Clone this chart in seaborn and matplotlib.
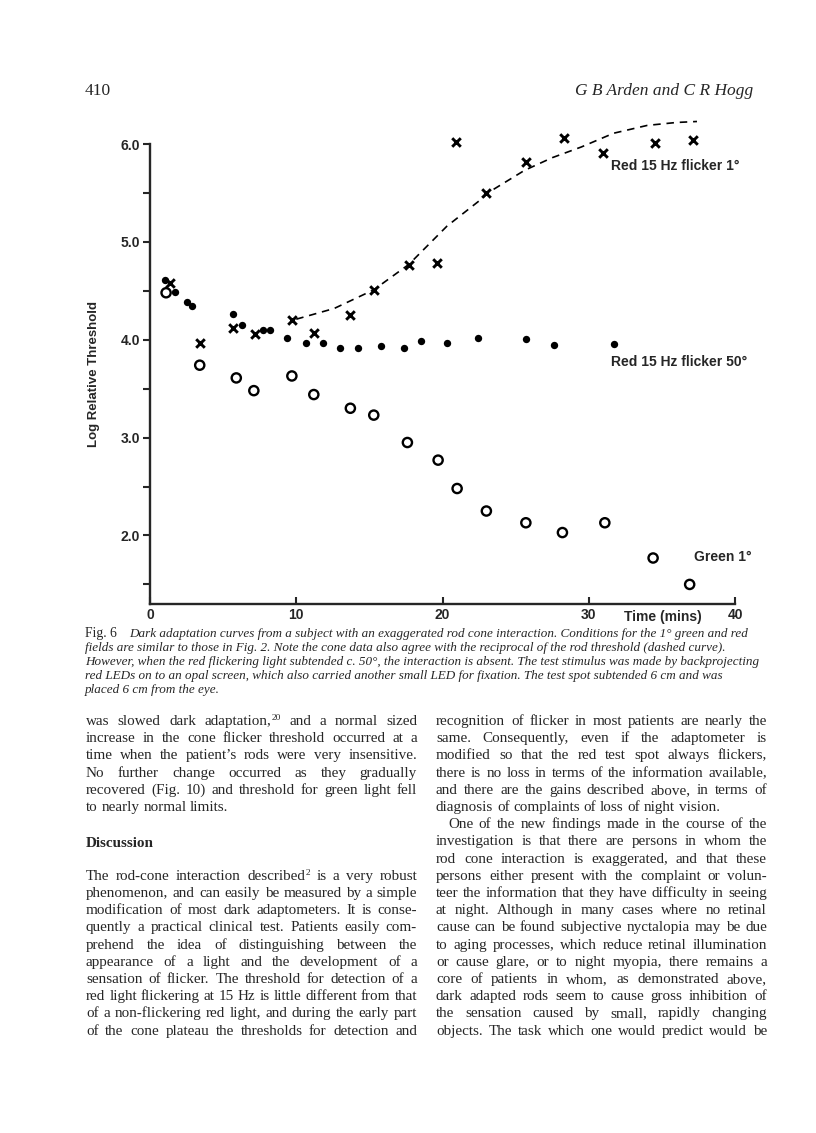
import matplotlib
matplotlib.use("Agg")
import matplotlib.pyplot as plt
import seaborn as sns
import pandas as pd

# %%
# values: time (mins) vs log relative threshold
red1_t = [1.4, 3.4, 5.7, 7.2, 9.7, 11.2, 13.7, 15.3, 17.7, 19.6, 20.9, 23.0, 25.7, 28.3, 31.0, 34.5, 37.1]
red1_v = [4.58, 3.97, 4.12, 4.06, 4.20, 4.07, 4.25, 4.51, 4.76, 4.78, 6.02, 5.50, 5.82, 6.06, 5.91, 6.01, 6.04]

red50_t = [1.0, 1.7, 2.5, 2.9, 5.7, 6.3, 7.7, 8.2, 9.4, 10.7, 11.8, 13.0, 14.2, 15.8, 17.4, 18.5,
           20.3, 22.4, 25.7, 27.6, 31.7]
red50_v = [4.61, 4.49, 4.39, 4.34, 4.26, 4.15, 4.10, 4.10, 4.02, 3.97, 3.97, 3.92, 3.92, 3.94, 3.92, 3.99,
           3.97, 4.02, 4.01, 3.95, 3.96]

green_t = [1.1, 3.4, 5.9, 7.1, 9.7, 11.2, 13.7, 15.3, 17.6, 19.7, 21.0, 23.0, 25.7, 28.2, 31.1, 34.4, 36.9]
green_v = [4.48, 3.74, 3.61, 3.48, 3.63, 3.44, 3.30, 3.23, 2.95, 2.77, 2.48, 2.25, 2.13, 2.03, 2.13, 1.77, 1.50]

# dashed curve (reciprocal of rod threshold)
curve_t = [10.0, 12.6, 15.3, 17.7, 20.3, 22.6, 23.2, 25.6, 27.5, 29.5, 31.7, 34.0, 36.0, 37.4]
curve_v = [4.21, 4.32, 4.51, 4.77, 5.16, 5.43, 5.51, 5.73, 5.86, 5.97, 6.11, 6.19, 6.22, 6.23]

y_ticks = [2.0, 3.0, 4.0, 5.0, 6.0]
y_minor = [1.5, 2.5, 3.5, 4.5, 5.5]
x_ticks = [0, 10, 20, 30, 40]

# %%
# page text ("^" marks a superscript reference number)
header_left = "410"
header_right = "G B Arden and C R Hogg"
caption_lead = "Fig. 6"
caption_lines = [
    "Dark adaptation curves from a subject with an exaggerated rod cone interaction. Conditions for the 1° green and red",
    "fields are similar to those in Fig. 2. Note the cone data also agree with the reciprocal of the rod threshold (dashed curve).",
    "However, when the red flickering light subtended c. 50°, the interaction is absent. The test stimulus was made by backprojecting",
    "red LEDs on to an opal screen, which also carried another small LED for fixation. The test spot subtended 6 cm and was",
    "placed 6 cm from the eye.",
]
col1_par1 = [
    "was slowed dark adaptation,^20 and a normal sized",
    "increase in the cone flicker threshold occurred at a",
    "time when the patient’s rods were very insensitive.",
    "No further change occurred as they gradually",
    "recovered (Fig. 10) and threshold for green light fell",
    "to nearly normal limits.",
]
heading = "Discussion"
col1_par2 = [
    "The rod-cone interaction described^2 is a very robust",
    "phenomenon, and can easily be measured by a simple",
    "modification of most dark adaptometers. It is conse-",
    "quently a practical clinical test. Patients easily com-",
    "prehend the idea of distinguishing between the",
    "appearance of a light and the development of a",
    "sensation of flicker. The threshold for detection of a",
    "red light flickering at 15 Hz is little different from that",
    "of a non-flickering red light, and during the early part",
    "of the cone plateau the thresholds for detection and",
]
col2_par1 = [
    "recognition of flicker in most patients are nearly the",
    "same. Consequently, even if the adaptometer is",
    "modified so that the red test spot always flickers,",
    "there is no loss in terms of the information available,",
    "and there are the gains described above, in terms of",
    "diagnosis of complaints of loss of night vision.",
]
col2_par2 = [
    "One of the new findings made in the course of the",
    "investigation is that there are persons in whom the",
    "rod cone interaction is exaggerated, and that these",
    "persons either present with the complaint or volun-",
    "teer the information that they have difficulty in seeing",
    "at night. Although in many cases where no retinal",
    "cause can be found subjective nyctalopia may be due",
    "to aging processes, which reduce retinal illumination",
    "or cause glare, or to night myopia, there remains a",
    "core of patients in whom, as demonstrated above,",
    "dark adapted rods seem to cause gross inhibition of",
    "the sensation caused by small, rapidly changing",
    "objects. The task which one would predict would be",
]

# %%
sns.set_style("ticks")
SANS = ["Liberation Sans", "DejaVu Sans"]
SERIF = ["Liberation Serif", "DejaVu Serif"]
plt.rcParams["font.family"] = SANS

W, H = 816, 1133
fig = plt.figure(figsize=(W / 100, H / 100), dpi=100)


def fxy(x, y):
    return x / W, 1 - y / H


ax = fig.add_axes([150 / W, 1 - 604 / H, 585 / W, 460 / H])

df_red1 = pd.DataFrame({"t": red1_t, "v": red1_v})
df_red50 = pd.DataFrame({"t": red50_t, "v": red50_v})
df_green = pd.DataFrame({"t": green_t, "v": green_v})
df_curve = pd.DataFrame({"t": curve_t, "v": curve_v})

sns.lineplot(data=df_curve, x="t", y="v", sort=False, estimator=None, color="k",
             lw=1.2, linestyle=(0, (4.5, 3.5)), ax=ax)
sns.scatterplot(data=df_red50, x="t", y="v", marker="o", s=28, color="k", linewidth=0, ax=ax)
sns.scatterplot(data=df_green, x="t", y="v", marker="o", s=44, facecolor="none",
                edgecolor="k", linewidth=1.7, ax=ax)
sns.scatterplot(data=df_red1, x="t", y="v", marker="x", s=38, color="k", linewidth=2.1, ax=ax)
for art in ax.collections + ax.lines:
    art.set_clip_on(False)

ax.set_xlim(0, 40)
ax.set_ylim(1.3, 6.0)
ax.set_xticks(x_ticks)
ax.set_xticklabels([str(v) for v in x_ticks])
ax.set_yticks(y_ticks)
ax.set_yticklabels([f"{v:.1f}" for v in y_ticks])
ax.set_yticks(y_minor, minor=True)
sns.despine(ax=ax)
for side in ["left", "bottom"]:
    ax.spines[side].set_linewidth(1.7)
ax.tick_params(axis="y", which="both", direction="out", length=5, width=1.5, labelsize=10, pad=2)
ax.tick_params(axis="x", direction="in", length=5, width=1.5, labelsize=10, pad=3)
for lab in ax.get_xticklabels() + ax.get_yticklabels():
    lab.set_fontweight("bold")
ax.set_xlabel("")
ax.set_ylabel("Log Relative Threshold", fontweight="bold", fontsize=9.5)
ax.yaxis.set_label_coords(-0.085, 0.50)

lab_kw = dict(fontsize=10, fontweight="bold", ha="left", va="center")
ax.text(31.5, 5.78, "Red 15 Hz flicker 1°", **lab_kw)
ax.text(31.5, 3.77, "Red 15 Hz flicker 50°", **lab_kw)
ax.text(37.2, 1.78, "Green 1°", **lab_kw)
ax.text(0.81, -0.028, "Time (mins)", transform=ax.transAxes, **lab_kw)

# %%
# header and caption
fig.text(*fxy(85, 95), header_left, family=SERIF, fontsize=12.5, ha="left", va="baseline")
fig.text(*fxy(753, 95), header_right, family=SERIF, style="italic", fontsize=12.5,
         ha="right", va="baseline")

r = fig.canvas.get_renderer()


def text_width(s, **kw):
    t = fig.text(0, 0, s, **kw)
    w = t.get_window_extent(r).width
    t.remove()
    return w


CAP_X = 85
cap_kw = dict(family=SERIF, style="italic", ha="left", va="baseline")
cap_size = 9.0 * (757 - CAP_X) / text_width(caption_lines[2], fontsize=9.0, **cap_kw)
fig.text(*fxy(CAP_X, 637), caption_lead, family=SERIF, fontsize=cap_size + 0.4, ha="left", va="baseline")
lead_w = text_width(caption_lead, family=SERIF, fontsize=cap_size + 0.4)
for i, line in enumerate(caption_lines):
    x0 = CAP_X + (lead_w + 12 if i == 0 else 0)
    fig.text(*fxy(x0, 637 + i * 14.0), line, fontsize=cap_size, **cap_kw)

# %%
# body text, justified word by word
body_kw = dict(family=SERIF, ha="left", va="baseline")
COLW = 331
BODY = 10.9


def make_word(word, size):
    # artists of one word (plus its raised reference number) and the total width
    base, _, sup = word.partition("^")
    arts = [(fig.text(0, 0, base, fontsize=size, **body_kw), 0.0, 0.0)]
    w = arts[0][0].get_window_extent(r).width
    if sup:
        t = fig.text(0, 0, sup, fontsize=size * 0.62, **body_kw)
        arts.append((t, w + 0.3, -5.0))
        w += 0.3 + t.get_window_extent(r).width
    return arts, w


def put_par(lines, x0, y0, step, last_left=True, indent=0.0):
    for i, line in enumerate(lines):
        y = y0 + i * step
        xs = x0 + (indent if i == 0 else 0)
        words = line.split()
        size = BODY
        while True:
            sp = text_width("a a", fontsize=size, **body_kw) - text_width("aa", fontsize=size, **body_kw)
            made = [make_word(w, size) for w in words]
            room = x0 + COLW - xs - sum(m[1] for m in made)
            if room >= 0.6 * sp * (len(words) - 1) or size < 8:
                break
            for arts, _ in made:
                for a, _, _ in arts:
                    a.remove()
            size -= 0.1
        if (last_left and i == len(lines) - 1) or len(words) < 2:
            gap = sp
        else:
            gap = room / (len(words) - 1)
        x = xs
        for arts, w in made:
            for a, dx, dy in arts:
                a.set_position(fxy(x + dx, y + dy))
            x += w + gap


STEP = 17.2
Y0 = 725
C1, C2 = 86, 436
put_par(col1_par1, C1, Y0, STEP)
fig.text(*fxy(C1, Y0 + 7.1 * STEP), heading, fontsize=BODY, fontweight="bold", **body_kw)
put_par(col1_par2, C1, Y0 + 9 * STEP, STEP, last_left=False)
put_par(col2_par1, C2, Y0, STEP)
put_par(col2_par2, C2, Y0 + 6 * STEP, STEP, last_left=False, indent=12)

fig.savefig("out.png", dpi=100)
